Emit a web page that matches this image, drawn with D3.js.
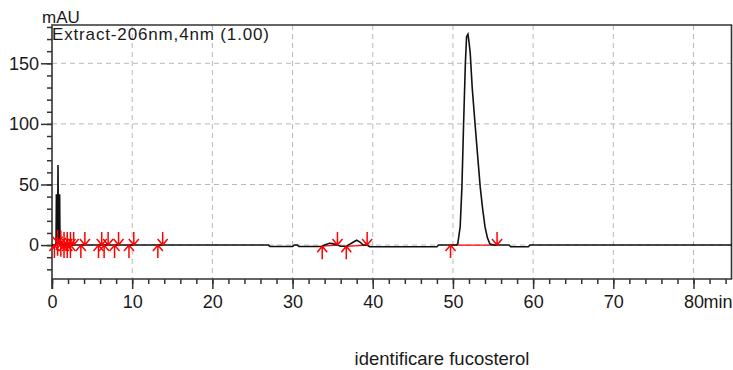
<!DOCTYPE html>
<html>
<head>
<meta charset="utf-8">
<script src="https://cdn.jsdelivr.net/npm/d3@7"></script>
<style>
  body { margin: 0; background: #fff; }
  text { font-family: "Liberation Sans", Arial, sans-serif; fill: #1a1a1a; }
</style>
</head>
<body>
<div id="chart"></div>
<script>
// chromatogram samples: retention time (min) and signal (mAU)
const rtMin = [0, 0.5, 0.55, 0.6, 0.65, 0.7, 0.75, 0.8, 0.85, 0.9, 0.95, 1.0, 1.2,
  27.0, 27.2, 30.0, 30.2, 30.6, 30.8, 33.6, 34.0, 34.6, 35.0, 35.6, 36.0, 36.7,
  37.2, 37.6, 38.0, 38.4, 38.8, 39.3, 39.6, 48.0, 48.2,
  50.4, 50.6, 50.9, 51.12, 51.32, 51.55, 51.7, 51.87, 52.0, 52.16, 52.4, 52.78,
  53.1, 53.4, 53.7, 54.0, 54.3, 54.6, 55.0, 57.0, 57.2, 59.4, 59.6, 84.8];
const mAU = [0, 0, 42, 0, 42, 2, 66, 2, 42, 0, 42, 2, 0,
  0, -1.2, -1.2, 0, 0, -1.2, -1.2, 0, 1.5, 1.2, 0, -1, -1,
  1, 2.5, 4, 2.5, 0, 0, -1.4, -1.4, 0,
  0, 1, 15, 48, 98, 150, 172, 174, 168, 158, 130, 98,
  72, 48, 30, 15, 6, 1, 0, 0, -1.4, -1.4, 0, 0];

// integration marks (min)
const peakStart = [0.3, 0.7, 1.1, 1.5, 1.9, 2.3, 3.6, 5.8, 6.5, 7.8, 9.6, 13.2, 33.7, 36.7, 49.7];
const peakEnd   = [0.7, 1.1, 1.5, 1.9, 2.3, 2.7, 4.1, 6.2, 7.0, 8.3, 10.2, 13.8, 35.6, 39.3, 55.5];

const xTicks = [0, 10, 20, 30, 40, 50, 60, 70, 80];
const yTicks = [0, 50, 100, 150];

const width = 733, height = 370;
const margin = { top: 25, right: 1, bottom: 91, left: 52 };

const svg = d3.select("#chart").append("svg")
  .attr("width", width)
  .attr("height", height);

const x = d3.scaleLinear().domain([0, 84.8]).range([margin.left, width - margin.right]);
const y = d3.scaleLinear().domain([-28, 181.6]).range([height - margin.bottom, margin.top]);

const data = rtMin.map((t, i) => ({ t: t, v: mAU[i] }));
const sig = d3.scaleLinear().domain(rtMin).range(mAU);

// grid
svg.append("g").selectAll("line").data(xTicks.slice(1)).join("line")
  .attr("x1", d => x(d)).attr("x2", d => x(d))
  .attr("y1", y.range()[1]).attr("y2", y.range()[0])
  .attr("stroke", "#b8b8b8").attr("stroke-dasharray", "5,4");
svg.append("g").selectAll("line").data(yTicks).join("line")
  .attr("x1", x.range()[0]).attr("x2", x.range()[1])
  .attr("y1", d => y(d)).attr("y2", d => y(d))
  .attr("stroke", "#b8b8b8").attr("stroke-dasharray", "5,4");

// axes
const bottom = height - margin.bottom;
svg.append("g")
  .attr("transform", `translate(0,${bottom})`)
  .call(d3.axisBottom(x).tickValues(d3.range(0, 85, 2)).tickSize(5).tickFormat(""))
  .call(g => g.select(".domain").remove());
const xAxis = svg.append("g")
  .attr("transform", `translate(0,${bottom})`)
  .call(d3.axisBottom(x).tickValues(xTicks).tickSize(10).tickPadding(6))
  .call(g => g.select(".domain").remove());
xAxis.selectAll("text").attr("font-size", 18).attr("font-family", null);

svg.append("g")
  .attr("transform", `translate(${margin.left},0)`)
  .call(d3.axisLeft(y).tickValues(d3.range(-20, 181, 10)).tickSize(5).tickFormat(""))
  .call(g => g.select(".domain").remove());
const yAxis = svg.append("g")
  .attr("transform", `translate(${margin.left},0)`)
  .call(d3.axisLeft(y).tickValues(yTicks).tickSize(11).tickPadding(2))
  .call(g => g.select(".domain").remove());
yAxis.selectAll("text").attr("font-size", 18).attr("font-family", null);

svg.selectAll(".tick line").attr("stroke", "#333").attr("stroke-width", 1.5);

svg.append("text")
  .attr("x", x(80) + 10).attr("y", bottom + 16).attr("dy", "0.71em")
  .attr("font-size", 18)
  .text("min");

// frame
svg.append("path")
  .attr("d", `M${x.range()[0]},${bottom + 10}V${margin.top}H${x.range()[1] - 0.5}V${bottom}H${x.range()[0]}`)
  .attr("fill", "none").attr("stroke", "#333").attr("stroke-width", 1.6);

// integration baselines
svg.append("g").selectAll("line").data(peakStart).join("line")
  .attr("x1", (d, i) => x(d)).attr("x2", (d, i) => x(peakEnd[i]))
  .attr("y1", d => y(sig(d))).attr("y2", (d, i) => y(sig(peakEnd[i])))
  .attr("stroke", "#ff0000").attr("stroke-width", 1.3);

// chromatogram
svg.append("path")
  .datum(data)
  .attr("fill", "none")
  .attr("stroke", "#111")
  .attr("stroke-width", 1.6)
  .attr("d", d3.line().x(d => x(d.t)).y(d => y(d.v)));

// start (up) and end (down) arrows
const arrowUp = "M0,0V13M-5,6L0,0L5,6";
const arrowDown = "M0,0V-13M-5,-6L0,0L5,-6";
svg.append("g").selectAll("path").data(peakStart).join("path")
  .attr("transform", d => `translate(${x(d)},${y(sig(d))})`)
  .attr("d", arrowUp)
  .attr("fill", "none").attr("stroke", "#ff0000").attr("stroke-width", 1.5);
svg.append("g").selectAll("path").data(peakEnd).join("path")
  .attr("transform", d => `translate(${x(d)},${y(sig(d))})`)
  .attr("d", arrowDown)
  .attr("fill", "none").attr("stroke", "#ff0000").attr("stroke-width", 1.5);

// labels
svg.append("text")
  .attr("x", 42).attr("y", 23)
  .attr("font-size", 17)
  .text("mAU");
svg.append("text")
  .attr("x", 52).attr("y", 40)
  .attr("font-size", 17)
  .attr("textLength", 217).attr("lengthAdjust", "spacing")
  .text("Extract-206nm,4nm (1.00)");
svg.append("text")
  .attr("x", 442).attr("y", 365)
  .attr("font-size", 18.5)
  .attr("text-anchor", "middle")
  .text("identificare fucosterol");
</script>
</body>
</html>
